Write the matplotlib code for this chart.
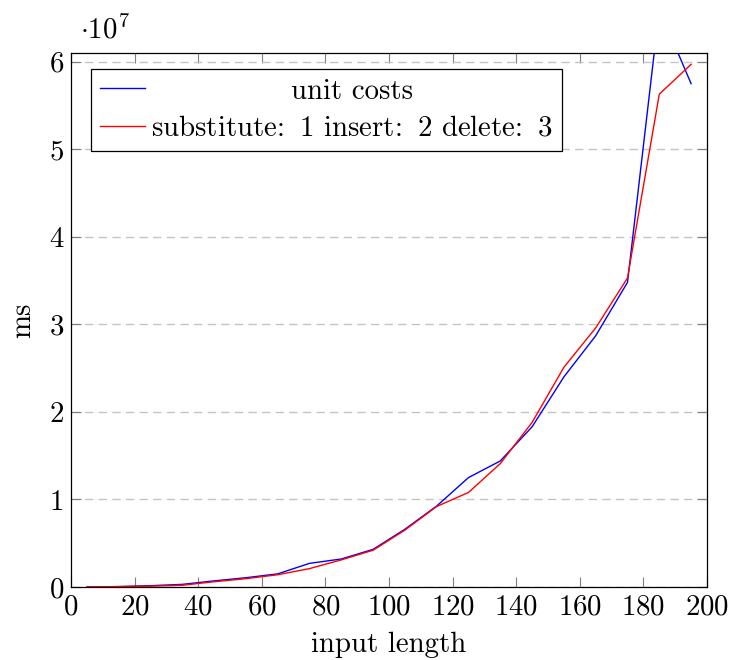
import matplotlib
matplotlib.use("Agg")
import matplotlib.pyplot as plt
from matplotlib.transforms import Affine2D

plt.rcParams['font.family'] = 'cmr10'
plt.rcParams['mathtext.fontset'] = 'cm'
plt.rcParams['axes.unicode_minus'] = False
plt.rcParams['axes.formatter.use_mathtext'] = True

input_length = [5, 15, 25, 35, 45, 55, 65, 75, 85, 95, 105, 115, 125, 135, 145, 155, 165, 175, 185, 195]
unit_costs = [0.0, 0.005, 0.015, 0.03, 0.07, 0.106, 0.15, 0.27, 0.32, 0.43, 0.66, 0.925, 1.25, 1.44,
              1.83, 2.40, 2.87, 3.48, 6.6, 5.75]
weighted_costs = [0.0, 0.004, 0.01, 0.02, 0.06, 0.095, 0.14, 0.21, 0.31, 0.42, 0.65, 0.92, 1.08, 1.41,
                  1.88, 2.51, 2.96, 3.53, 5.63, 5.97]
scale = 1e7
label_unit = "unit costs"
label_weighted = r"substitute:$\hspace{0.21}$ 1 insert:$\hspace{0.21}$ 2 delete:$\hspace{0.21}$ 3"

FS = 20.8
fig = plt.figure(figsize=(7.32, 6.60), dpi=100)
ax = fig.add_axes([71/732, 1-587/660, (707-71)/732, (587-53)/660])

ax.plot(input_length, [v*scale for v in unit_costs], color='#0000ff', lw=1.0, label=label_unit)
ax.plot(input_length, [v*scale for v in weighted_costs], color='#ff0000', lw=1.0, label=label_weighted)

ax.set_xlim(0, 200)
ax.set_ylim(0, 6.1e7)
ax.set_xticks(range(0, 201, 20))
yt = [i*1e7 for i in range(7)]
ax.set_yticks(yt)
ax.set_yticklabels([str(i) for i in range(7)])
ax.yaxis.grid(True, color='#c4c4c4', lw=1.0, linestyle=(0, (6, 3.8)))
ax.set_axisbelow(True)
ax.tick_params(direction='in', length=7.5, width=0.8, color='#7f7f7f',
               top=True, right=True, labelsize=FS, pad=5)
for s in ax.spines.values():
    s.set_linewidth(0.9)
    s.set_color('black')

ax.set_xlabel("input length", fontsize=FS, labelpad=8)
ax.set_ylabel("ms", fontsize=FS, labelpad=10)
fig.text(80/732, 1-30/660, r"$\cdot 10^{7}$", fontsize=FS, ha='left', va='center')

leg = ax.legend(loc='upper left', bbox_to_anchor=(20/636, 1-16/534), borderaxespad=0,
                fontsize=FS, frameon=True, fancybox=False, framealpha=1,
                edgecolor='black', handlelength=1.55, handletextpad=0.2,
                labelspacing=0.38, borderpad=0.32)
leg.get_frame().set_linewidth(0.9)

fig.canvas.draw()
r = fig.canvas.get_renderer()
texts = leg.get_texts()
widths = [t.get_window_extent(r).width for t in texts]
wmax = max(widths)
for t, w in zip(texts, widths):
    dx = (wmax - w) / 2
    if dx > 0:
        t.set_transform(t.get_transform() + Affine2D().translate(dx, 0))

fig.savefig("out.png", dpi=100)
